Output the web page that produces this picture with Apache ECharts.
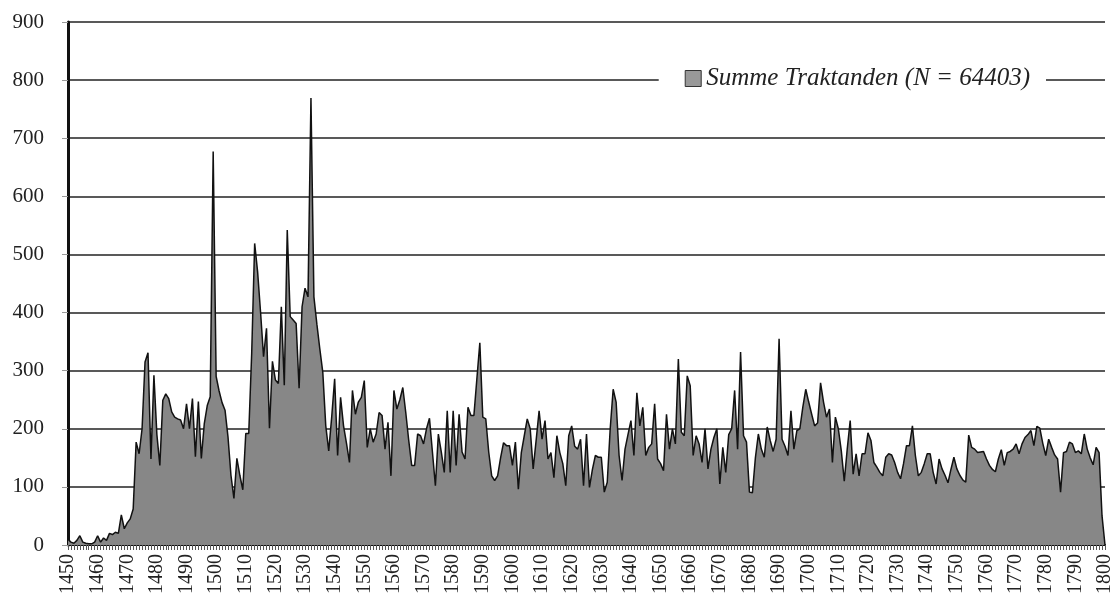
<!DOCTYPE html>
<html>
<head>
<meta charset="utf-8">
<script src="https://cdn.jsdelivr.net/npm/echarts@6/dist/echarts.min.js"></script>
<style>html,body{margin:0;padding:0;background:#fff;}#c{width:1118px;height:607px;}</style>
</head>
<body>
<div id="c"></div>
<script>
const startYear = 1450;
const endYear = 1800;
const seriesName = 'Summe Traktanden (N = 64403)';
const yTicks = [0, 100, 200, 300, 400, 500, 600, 700, 800, 900];
// values by decade, 1450..1799, then 1800
const v1450 = [10, 5, 3, 8, 16, 5, 3, 2, 2, 5];
const v1460 = [16, 5, 12, 8, 20, 18, 22, 20, 52, 28];
const v1470 = [38, 45, 62, 177, 157, 200, 315, 331, 148, 292];
const v1480 = [190, 137, 249, 260, 252, 229, 220, 217, 215, 200];
const v1490 = [243, 200, 252, 152, 247, 149, 209, 240, 255, 677];
const v1500 = [290, 265, 245, 232, 186, 120, 80, 149, 120, 95];
const v1510 = [192, 192, 330, 519, 470, 400, 324, 373, 201, 316];
const v1520 = [284, 278, 410, 275, 542, 393, 387, 381, 270, 410];
const v1530 = [442, 427, 769, 427, 380, 337, 297, 205, 162, 220];
const v1540 = [286, 154, 254, 205, 175, 142, 266, 225, 246, 254];
const v1550 = [283, 168, 200, 177, 191, 228, 223, 165, 211, 119];
const v1560 = [266, 234, 250, 271, 228, 180, 137, 137, 191, 188];
const v1570 = [174, 200, 218, 160, 102, 191, 160, 125, 231, 125];
const v1580 = [231, 137, 225, 160, 148, 237, 223, 223, 286, 348];
const v1590 = [220, 217, 160, 119, 111, 119, 150, 176, 171, 171];
const v1600 = [137, 177, 96, 159, 188, 217, 200, 131, 180, 231];
const v1610 = [182, 214, 148, 159, 116, 188, 159, 140, 102, 188];
const v1620 = [205, 170, 165, 182, 102, 191, 99, 130, 154, 151];
const v1630 = [151, 91, 108, 200, 268, 246, 154, 111, 165, 190];
const v1640 = [214, 154, 262, 205, 237, 154, 168, 174, 243, 148];
const v1650 = [140, 128, 225, 165, 200, 174, 320, 194, 188, 291];
const v1660 = [274, 154, 188, 174, 142, 200, 131, 165, 185, 200];
const v1670 = [105, 168, 125, 190, 200, 266, 165, 332, 188, 177];
const v1680 = [91, 90, 150, 191, 165, 151, 203, 180, 161, 182];
const v1690 = [355, 182, 170, 154, 231, 165, 197, 200, 237, 268];
const v1700 = [246, 225, 205, 210, 279, 246, 220, 234, 142, 220];
const v1710 = [200, 162, 110, 165, 214, 122, 157, 119, 157, 157];
const v1720 = [193, 180, 142, 134, 125, 119, 151, 157, 155, 142];
const v1730 = [125, 114, 140, 171, 171, 205, 154, 119, 125, 140];
const v1740 = [157, 157, 125, 105, 148, 131, 120, 107, 130, 151];
const v1750 = [131, 120, 112, 108, 189, 168, 165, 159, 160, 161];
const v1760 = [148, 137, 130, 126, 148, 164, 137, 159, 161, 165];
const v1770 = [174, 157, 174, 185, 190, 197, 171, 204, 201, 175];
const v1780 = [154, 182, 168, 155, 148, 91, 159, 161, 177, 174];
const v1790 = [159, 162, 157, 191, 165, 150, 138, 168, 159, 50];
const v1800 = [0];

const values = [].concat(v1450, v1460, v1470, v1480, v1490, v1500, v1510, v1520, v1530,
  v1540, v1550, v1560, v1570, v1580, v1590, v1600, v1610, v1620, v1630, v1640, v1650,
  v1660, v1670, v1680, v1690, v1700, v1710, v1720, v1730, v1740, v1750, v1760, v1770,
  v1780, v1790, v1800);
const years = [];
for (let y = startYear; y <= endYear; y++) years.push(String(y));

const serif = '"Liberation Serif", "DejaVu Serif", serif';
const chart = echarts.init(document.getElementById('c'));
chart.setOption({
  animation: false,
  backgroundColor: '#fff',
  grid: { left: 68, right: 13, top: 22, bottom: 62 },
  legend: {
    show: true,
    right: 72,
    top: 63,
    backgroundColor: '#fff',
    padding: [3, 16, 3, 26],
    itemWidth: 16,
    itemHeight: 16,
    itemGap: 8,
    textStyle: { fontFamily: serif, fontStyle: 'italic', fontSize: 25, color: '#222' },
    data: [{ name: seriesName, icon: 'rect', itemStyle: { color: '#999', borderColor: '#333', borderWidth: 1 } }]
  },
  xAxis: {
    type: 'category',
    data: years,
    boundaryGap: false,
    axisLine: { lineStyle: { color: '#111', width: 2 } },
    axisTick: { show: true, interval: 0, length: 5, lineStyle: { color: '#555', width: 1 } },
    axisLabel: {
      interval: 9,
      rotate: 90,
      fontFamily: serif,
      fontSize: 20,
      color: '#222',
      margin: 9
    },
    splitLine: { show: false }
  },
  yAxis: {
    type: 'value',
    min: yTicks[0],
    max: yTicks[yTicks.length - 1],
    interval: 100,
    axisLine: { show: true, lineStyle: { color: '#111', width: 3 } },
    axisTick: { show: true, length: 6, lineStyle: { color: '#999', width: 1 } },
    axisLabel: { fontFamily: serif, fontSize: 21, color: '#222', margin: 24 },
    splitLine: { show: true, lineStyle: { color: '#222', width: 1.5 } }
  },
  series: [{
    name: seriesName,
    type: 'line',
    data: values,
    symbol: 'none',
    smooth: false,
    lineStyle: { color: '#111', width: 1.5 },
    itemStyle: { color: '#999' },
    areaStyle: { color: '#878787', opacity: 1 },
    z: 3
  }]
});
</script>
</body>
</html>
